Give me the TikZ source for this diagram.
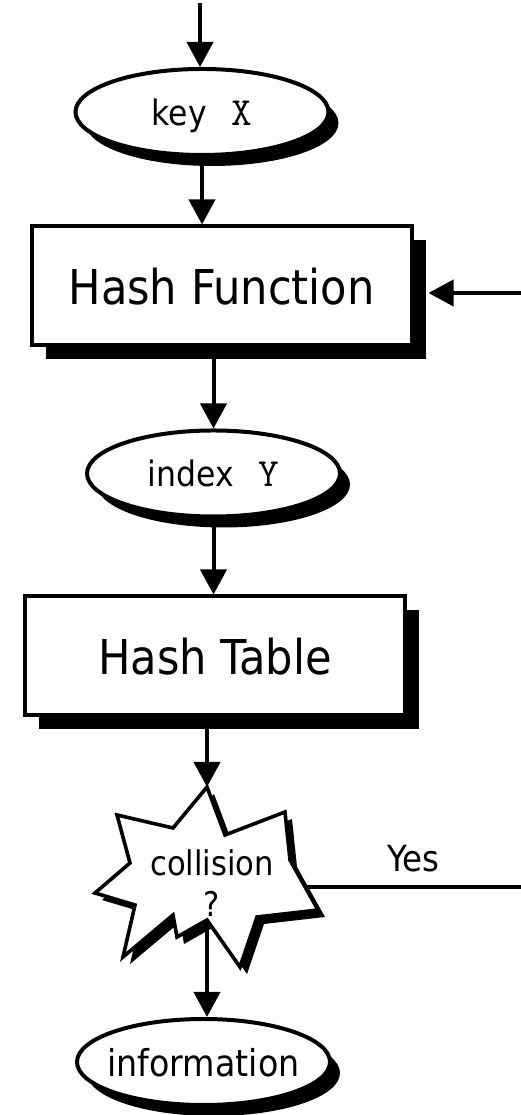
\documentclass[tikz,border=0pt]{standalone}
\usepackage{fontspec}
\setmainfont{DejaVu Sans Condensed}
\usetikzlibrary{shapes.geometric,shadows,arrows.meta}

\newcommand{\var}[1]{\texttt{\fontsize{40}{40}\selectfont #1}}

\begin{document}
\begin{tikzpicture}[x=1pt,y=1pt,
  term/.style={ellipse, draw, line width=4pt, fill=white, inner sep=0pt,
    minimum width=253pt, minimum height=86pt, text depth=0pt,
    font=\fontsize{35}{40}\selectfont,
    drop shadow={shadow xshift=10pt, shadow yshift=-11pt, opacity=1, fill=black}},
  proc/.style={rectangle, draw, line width=4pt, fill=white, inner sep=0pt,
    minimum width=380pt, minimum height=119pt, text depth=0pt,
    font=\fontsize{48}{56}\selectfont,
    drop shadow={shadow xshift=14pt, shadow yshift=-14pt, opacity=1, fill=black}},
  flow/.style={line width=4pt, -{Triangle[length=25pt,width=26pt]}}]
\useasboundingbox (0,0) rectangle (521,1115);

\node[term](key) at (202,1003) {key\hspace{.7em}\var{X}};
\node[proc](hf) at (221.5,829) {Hash Function};
\node[term](idx) at (213.5,641.5) {index\hspace{.7em}\var{Y}};
\node[proc](ht) at (215,459) {Hash Table};
\node[term, inner xsep=-25pt, font=\fontsize{37}{40}\selectfont](info) at (203.5,53) {information};

% the collision test, a hand drawn star
\draw[line width=3.6pt, fill=white, line join=miter,
  drop shadow={shadow xshift=7pt, shadow yshift=-7pt, opacity=1, fill=black}]
  (207,328) coordinate (ctop) -- (225,280) -- (285,303) -- (290,255)
  -- coordinate[pos=0.54] (cyes) (318,205) -- (257,198) -- (240,148)
  -- (207,195) coordinate (cbot) -- (177,178) -- (173,200) -- (123,158)
  -- (135,210) -- (95,222) -- (130,252) -- (117,300) -- (173,287) -- cycle;
\node[align=center, font=\fontsize{34}{41}\selectfont](coll) at (212,232) {collision\\?};

\coordinate (in) at (200,1112);
\coordinate (back) at (521,822);
\coordinate (out) at (521,228);

\draw[flow] (in) -- (in |- key.north);
\draw[flow] (key.south) -- (key.south |- hf.north);
\draw[flow, shorten >=15pt] (back) -- (back -| hf.east);
\draw[flow] (idx.north |- hf.south) -- (idx.north);
\draw[flow] (idx.south) -- (idx.south |- ht.north);
\draw[flow] (ctop |- ht.south) -- (ctop);
\draw[flow] (cbot) -- (cbot |- info.north);
\draw[line width=3.6pt] (cyes) -- node[above=13pt, inner sep=0pt, font=\fontsize{36}{40}\selectfont](yes){Yes} (out);
\end{tikzpicture}
\end{document}
